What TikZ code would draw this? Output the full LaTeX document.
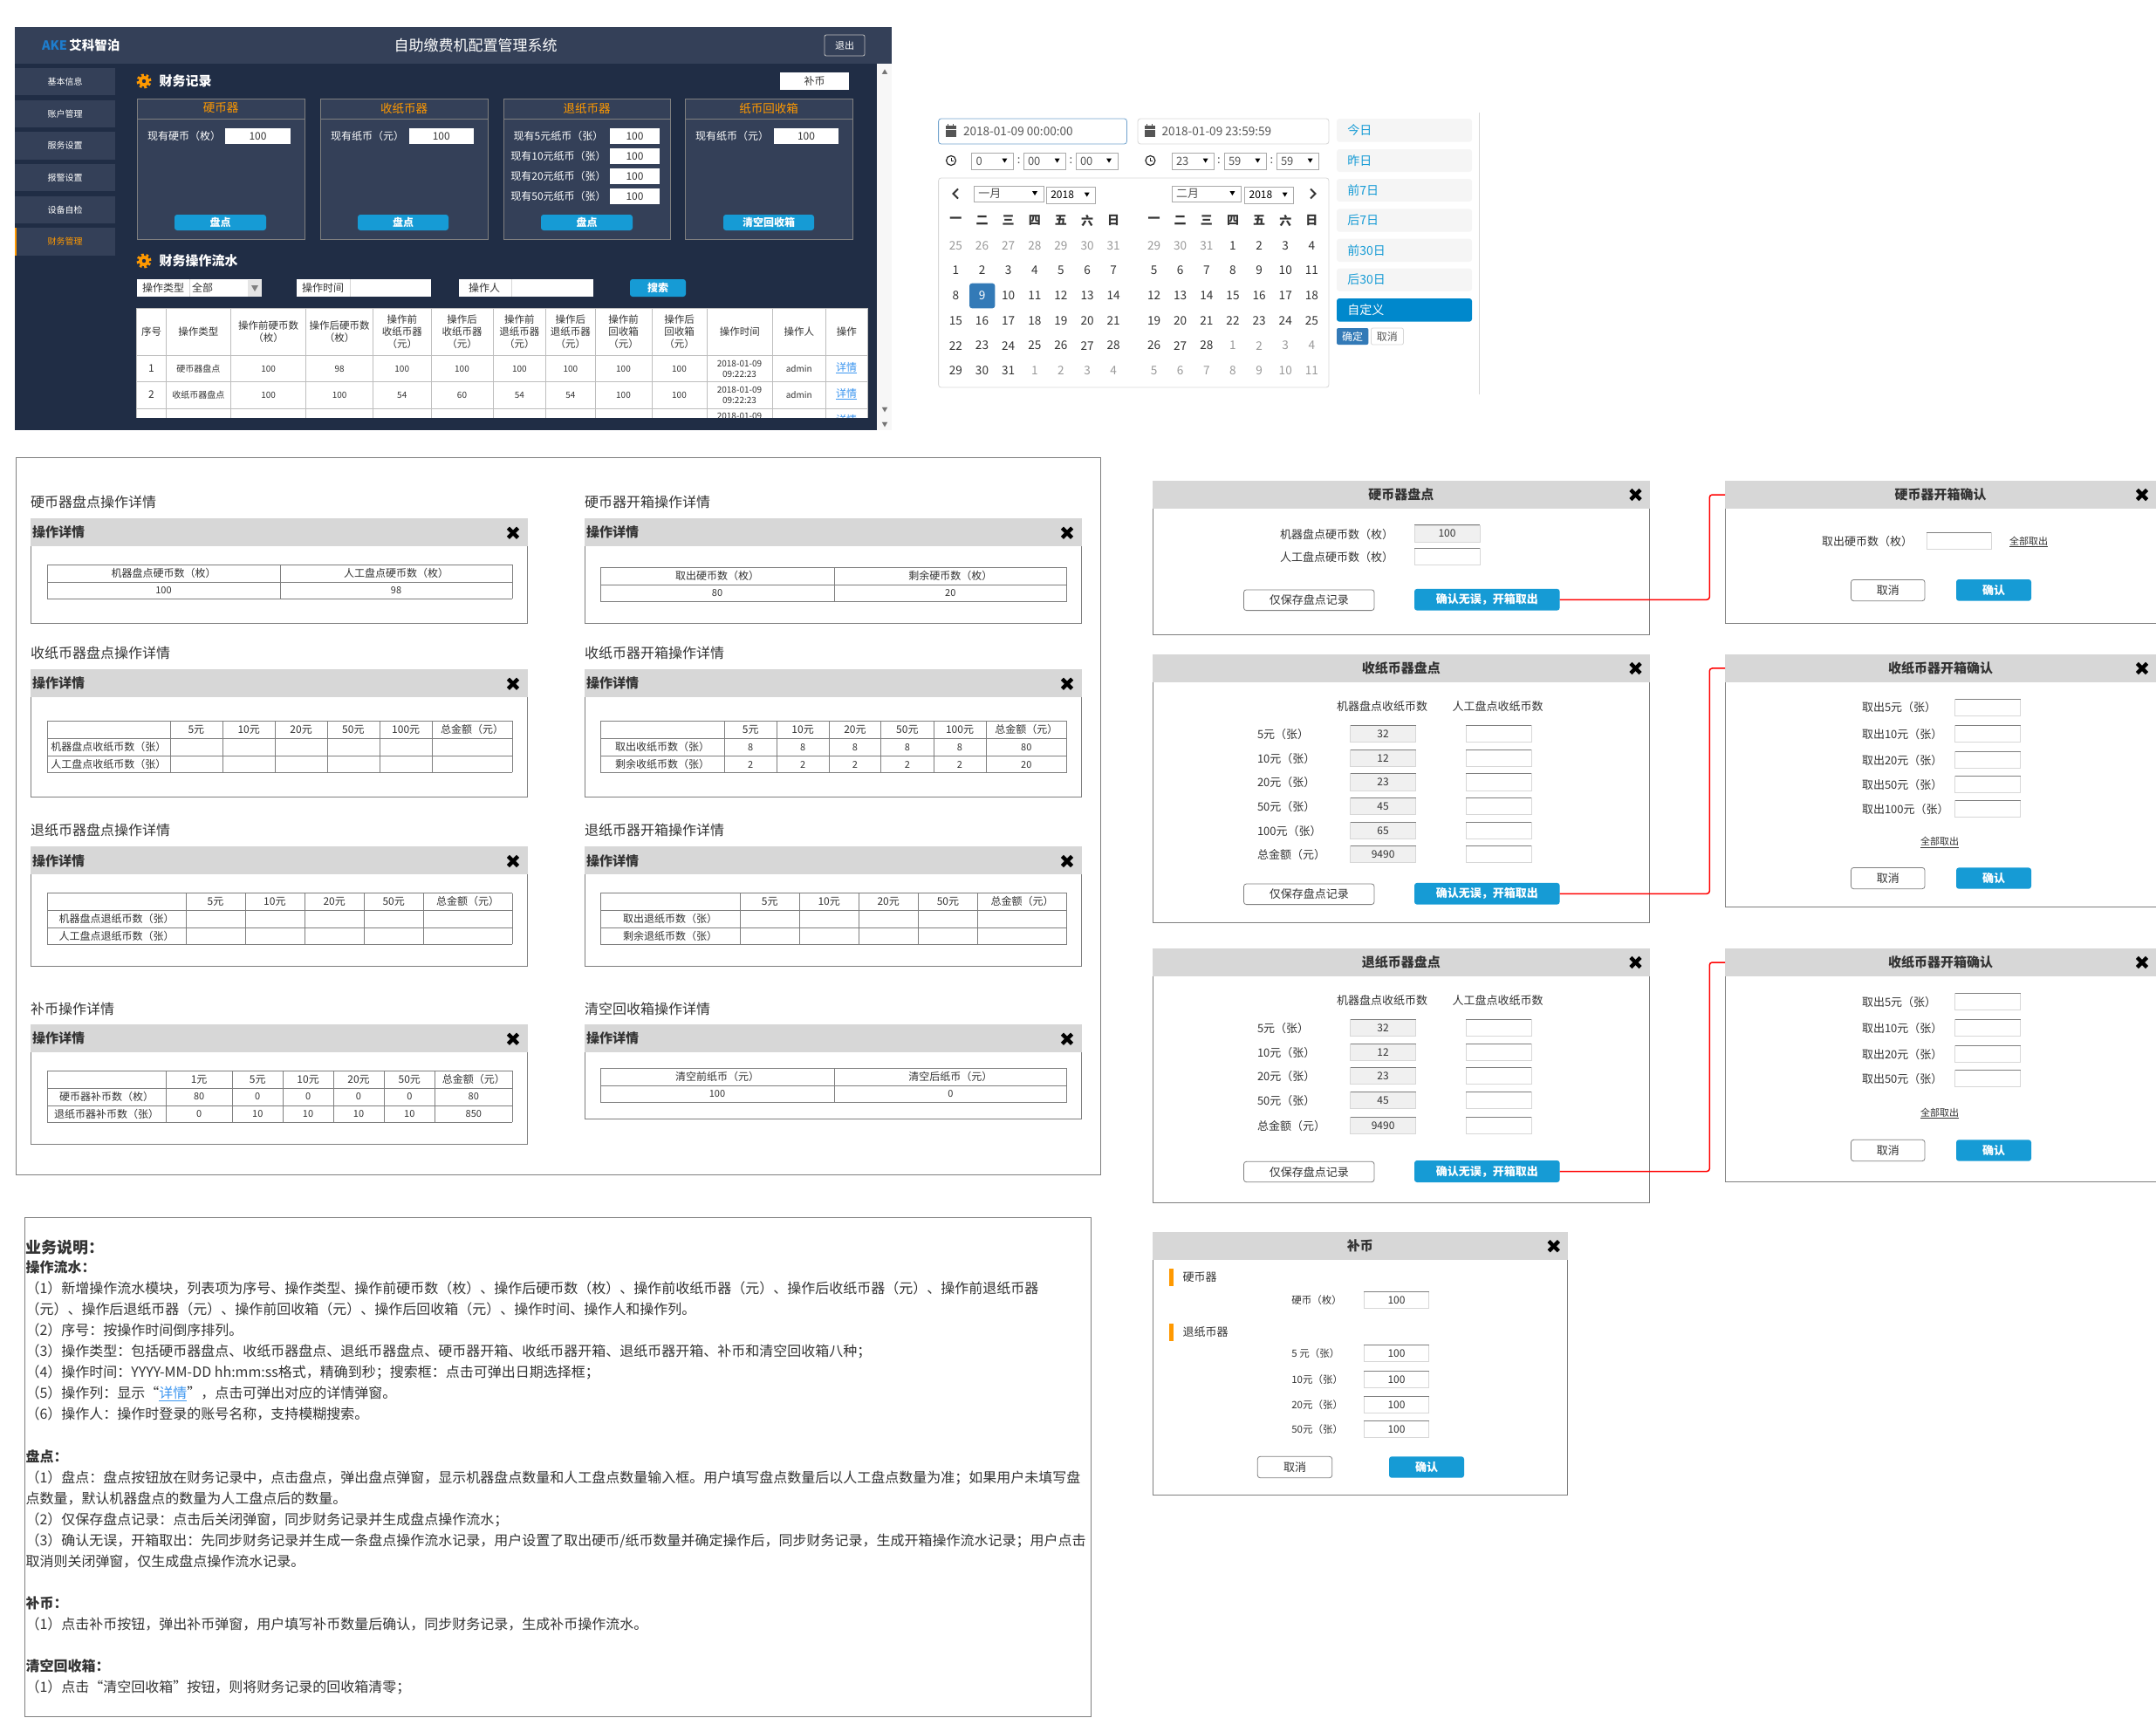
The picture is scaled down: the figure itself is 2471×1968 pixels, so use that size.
\documentclass[tikz,border=0pt]{standalone}
\usepackage{fontspec}
\setmainfont{Noto Sans CJK SC}
\usetikzlibrary{positioning, calc}

\newcounter{boxno}
\newcounter{lblno}

% box from corner to corner
\newcommand{\uibox}[6][]{%
  \stepcounter{boxno}%
  \pgfmathsetmacro\bxw{(#4)-(#2)}\pgfmathsetmacro\bxh{(#5)-(#3)}%
  \pgfmathsetmacro\bxc{((#2)+(#4))/2}\pgfmathsetmacro\byc{((#3)+(#5))/2}%
  \node (box\arabic{boxno}) [uibase, minimum width=\bxw pt, minimum height=\bxh pt, #1] at (\bxc,\byc) {#6};}
% plain text
\newcommand{\uilabel}[4][]{%
  \stepcounter{lblno}%
  \node (lbl\arabic{lblno}) [uitext, #1] at ({#2},{#3}) {#4};}
% one row of table cells
\newcommand{\uirow}[3][]{\foreach \xa/\xb/\s in {#3}{\uilabel[#1]{(\xa+\xb)/2}{#2}{\s}}}
% table rules
\newcommand{\uigrid}[6]{%
  \foreach \gy in {#3}{\draw[gridh] (#1,\gy) -- (#2,\gy);}%
  \foreach \gx in {#1,#4,#2}{\draw[gridv] (\gx,#5) -- (\gx,#6);}}
% input field, fixed height
\newcommand{\uiinput}[5][]{%
  \uibox[inputbox,#1]{#2}{#3}{#4}{#3+19.5}{#5}%
  \draw[inputtop] (#2,#3) -- (#4,#3);}
\newcommand{\closeicon}[2]{%
  \draw[closex] ({#1-5.6},{#2-5.6}) -- ({#1+5.6},{#2+5.6});
  \draw[closex] ({#1-5.6},{#2+5.6}) -- ({#1+5.6},{#2-5.6});}
\newcommand{\gearicon}[3]{%
  \fill[gearorange] (#1,#2) circle (6pt);
  \draw[gearorange, line width=3pt, dash pattern=on 2.8pt off 2.7pt] (#1,#2) circle (7pt);
  \fill[#3] (#1,#2) circle (2.2pt);}
\newcommand{\uidialog}[7]{%
  \uibox[dlgbody,name=#1_body]{#2}{#3}{#5}{#6}{}
  \uibox[dlghead,name=#1_head]{#2}{#3}{#5}{#4}{\bfseries #7}
  \closeicon{#5-16}{(#3+#4)/2}}
% detail panel: x, title y, head top, bottom, title
\newcommand{\uipanel}[5]{%
  \uilabel[anchor=west,fs=16]{#1}{#2}{#5}
  \uibox[dlgbody]{#1}{#3}{#1+569.6}{#4}{}
  \uibox[dlghead]{#1}{#3}{#1+569.6}{#3+32}{}
  \uilabel[anchor=west,fs=15]{#1+2}{#3+16}{\bfseries 操作详情}
  \closeicon{#1+553}{#3+16.7}}
\newcommand{\uiselect}[6][]{%
  \uibox[selectbox]{#2}{#3}{#4}{#5}{}
  \uilabel[anchor=west,fs=13,text=datetext,#1]{#2+5}{(#3+#5)/2}{#6}
  \fill[black] ({#4-13},{(#3+#5)/2-3}) -- ({#4-7},{(#3+#5)/2-3}) -- ({#4-10},{(#3+#5)/2+2}) -- cycle;}
\newcommand{\calicon}[2]{%
  \fill[datetext] ({#1-6},{#2-6}) rectangle ({#1+6},{#2+7});
  \draw[white, line width=.6pt] ({#1-6},{#2-2}) -- ({#1+6},{#2-2});
  \draw[datetext, line width=1.4pt] ({#1-3},{#2-8}) -- ({#1-3},{#2-5}) ({#1+3},{#2-8}) -- ({#1+3},{#2-5});}
\newcommand{\clockicon}[2]{%
  \draw[black!85, line width=1.2pt] (#1,#2) circle (5.5pt);
  \draw[black!85, line width=1pt] (#1,{#2-3.5}) -- (#1,{#2+.5}) -- ({#1+2.5},{#2+.5});}
\newcommand{\uicalendar}[5]{%
  \foreach \dd [count=\n from 0] in {#5}{%
    \pgfmathtruncatemacro\colno{mod(\n,7)}%
    \pgfmathtruncatemacro\rowno{floor((\n+.01)/7)}%
    \def\dcol{caldark}%
    \ifnum\n<#2 \def\dcol{calgray}\fi
    \ifnum\n>#3 \def\dcol{calgray}\fi
    \ifnum\n=#4 \def\dcol{white}\fi
    \uilabel[fs=13.6,text=\dcol]{#1+30.13*\colno}{281.3+28.7*\rowno}{\dd}}}
\newcommand{\descline}[3][]{%
  \stepcounter{lblno}%
  \node (lbl\arabic{lblno}) [uitext, anchor=base west, fs=16, #1] at (29.5,#2+5.8) {#3};}

\begin{document}
\begin{tikzpicture}[
    x=1pt, y=-1pt,
    uibase/.style={inner sep=0, outer sep=0, line width=.8pt, text=txtdark},
    uitext/.style={inner sep=0, outer sep=0, text=txtdark, align=center},
    fs/.style={font=\fontsize{#1}{#1}\selectfont},
    headfont/.style={font=\fontsize{11.5}{14}\selectfont},
    gridh/.style={draw=panelline, line width=.9pt},
    gridv/.style={draw=panelline, line width=.6pt},
    inputbox/.style={draw=inputline, fill=white, font=\fontsize{12}{12}\selectfont},
    inputtop/.style={draw=panelline, line width=1pt},
    selectbox/.style={draw=selectline, fill=white},
    closex/.style={draw=black, line width=4.4pt},
    dlgbody/.style={draw=panelline, fill=white},
    dlghead/.style={fill=headgray, font=\fontsize{15}{15}\selectfont},
    bluebtn/.style={fill=btnblue, rounded corners=3pt, text=white, font=\fontsize{13}{13}\bfseries\selectfont},
    linebtn/.style={draw=panelline, fill=white, rounded corners=3pt, font=\fontsize{13}{13}\selectfont},
    linkline/.style={draw=red, line width=1.5pt, rounded corners=3pt},
    rangebox/.style={fill=rangegray, rounded corners=3pt},
    gridlight/.style={draw=dashgrid, line width=.9pt}
]

% Colors
\definecolor{dashhead}{RGB}{52, 64, 88}
\definecolor{dashbody}{RGB}{32, 45, 69}
\definecolor{txtdark}{RGB}{51, 51, 51}
\definecolor{panelline}{RGB}{127, 127, 127}
\definecolor{inputline}{RGB}{215, 215, 215}
\definecolor{selectline}{RGB}{170, 170, 170}
\definecolor{headgray}{RGB}{215, 215, 215}
\definecolor{btnblue}{RGB}{22, 155, 213}
\definecolor{gearorange}{RGB}{255, 153, 0}
\definecolor{akeblue}{RGB}{30, 125, 205}
\definecolor{linkblue}{RGB}{60, 150, 240}
\definecolor{dashgrid}{RGB}{190, 190, 190}
\definecolor{datetext}{RGB}{85, 85, 85}
\definecolor{caldark}{RGB}{51, 51, 51}
\definecolor{calgray}{RGB}{153, 153, 153}
\definecolor{rangegray}{RGB}{245, 245, 245}
\definecolor{rangeblue}{RGB}{0, 136, 204}
\definecolor{calblue}{RGB}{51, 122, 183}

\useasboundingbox (0,0) rectangle (2471,1968);

% Dashboard frame
\uibox[fill=dashbody]{17}{31}{1022}{493}{}
\uibox[fill=dashhead]{17}{31}{1022}{73}{}
\uibox[fill=black!3]{1005}{73}{1022}{493}{}
\uilabel[anchor=west,fs=14.5,text=white]{48}{52}{\bfseries\textcolor{akeblue}{AKE}\,艾科智泊}
\uilabel[fs=17,text=white]{545}{52}{自助缴费机配置管理系统}
\uibox[draw=white!75!black,rounded corners=2pt,text=white,fs=11]{945}{40}{991}{64}{退出}
\foreach \ya in {83,470,487}{\uilabel[fs=7,text=black!55]{1014}{\ya}{\ifnum\ya=83 ▲\else ▼\fi}}

\foreach \ya/\yb/\s in {78/109/基本信息,115/146/账户管理,151/183/服务设置,188/219/报警设置,225/256/设备自检}{
  \uibox[fill=dashhead,text=white,fs=10]{17}{\ya}{132}{\yb}{\s}
}
\uibox[fill=dashhead,text=gearorange,fs=10]{17}{261}{132}{293}{财务管理}
\fill[gearorange] (17,261) rectangle (19,293);

% Records
\gearicon{165}{93}{dashbody}
\uilabel[anchor=west,fs=15,text=white]{182.5}{93}{\bfseries 财务记录}
\uibox[fill=white,fs=12]{894}{83}{973}{103}{补币}

\foreach \xa/\xb/\s in {157/349/硬币器,367/559/收纸币器,577/768/退纸币器,785/977/纸币回收箱}{
  \uibox[fill=dashhead,draw=panelline]{\xa}{113}{\xb}{274}{}
  \draw[panelline, line width=.8pt] (\xa,136) -- (\xb,136);
  \uilabel[fs=13.5,text=gearorange]{(\xa+\xb)/2}{124}{\s}
}
\uilabel[fs=12,text=white]{211}{156}{现有硬币（枚）}
\uibox[fill=white,fs=12]{258}{147}{333}{165}{100}
\uilabel[fs=12,text=white]{421}{156}{现有纸币（元）}
\uibox[fill=white,fs=12]{468.5}{147}{543}{165}{100}
\foreach \ty/\s in {147/现有5元纸币（张）,170/现有10元纸币（张）,193/现有20元纸币（张）,216/现有50元纸币（张）}{
  \uilabel[fs=12,text=white]{640}{\ty+9}{\s}
  \uibox[fill=white,fs=12]{699}{\ty}{756}{\ty+18}{100}
}
\uilabel[fs=12,text=white]{839}{156}{现有纸币（元）}
\uibox[fill=white,fs=12]{887}{147}{961}{165}{100}
\foreach \xa/\xb/\s in {200/305/盘点,410/514/盘点,620/725/盘点,829/933/清空回收箱}{
  \uibox[bluebtn,font=\fontsize{12}{12}\bfseries\selectfont]{\xa}{246}{\xb}{264}{\s}
}

% Operation log
\gearicon{165}{299}{dashbody}
\uilabel[anchor=west,fs=15,text=white]{182.5}{299}{\bfseries 财务操作流水}
\uibox[fill=white]{157}{320}{300}{340}{}
\uibox[fill=black!10]{284}{321}{300}{340}{}
\fill[black!50] (288,327) -- (296,327) -- (292,334) -- cycle;
\uilabel[fs=12]{187}{330}{操作类型}
\uilabel[anchor=west,fs=12]{220}{330}{全部}
\uibox[fill=white]{340}{320}{494}{340}{}
\uilabel[fs=12]{370}{330}{操作时间}
\uibox[fill=white]{525.5}{320}{679.5}{340}{}
\uilabel[fs=12]{555}{330}{操作人}
\foreach \xa in {217,401,586}{\draw[inputline, line width=1pt] (\xa,320) -- (\xa,340);}
\uibox[bluebtn,font=\fontsize{12}{12}\bfseries\selectfont]{722}{320}{786}{340}{搜索}

\begin{scope}
  \clip (156,352) rectangle (995,478);
  \uibox[fill=white]{156.5}{353}{994.5}{480}{}
  \foreach \gy in {353,407,437,468}{\draw[gridlight] (156.5,\gy) -- (994.5,\gy);}
  \foreach \gx in {156.5,190.5,264.4,350.8,427.5,494,565,625.8,682,747,810,885.5,946,994.5}{\draw[gridlight] (\gx,353) -- (\gx,480);}
  \uirow[headfont]{380}{156.5/190.5/序号,190.5/264.4/操作类型,264.4/350.8/{操作前硬币数\\（枚）},350.8/427.5/{操作后硬币数\\（枚）},427.5/494/{操作前\\收纸币器\\（元）},494/565/{操作后\\收纸币器\\（元）},565/625.8/{操作前\\退纸币器\\（元）},625.8/682/{操作后\\退纸币器\\（元）},682/747/{操作前\\回收箱\\（元）},747/810/{操作后\\回收箱\\（元）},810/885.5/操作时间,885.5/946/操作人,946/994.5/操作}
  \uilabel[fs=12]{173.5}{422.5}{1}
  \uilabel[fs=12]{173.5}{452.5}{2}
  \uirow[fs=10]{422.5}{190.5/264.4/硬币器盘点,264.4/350.8/100,350.8/427.5/98,427.5/494/100,494/565/100,565/625.8/100,625.8/682/100,682/747/100,747/810/100,885.5/946/admin}
  \uirow[fs=10]{452.5}{190.5/264.4/收纸币器盘点,264.4/350.8/100,350.8/427.5/100,427.5/494/54,494/565/60,565/625.8/54,625.8/682/54,682/747/100,747/810/100,885.5/946/admin}
  \foreach \ty in {422.5,452.5,482.5}{
    \uilabel[font=\fontsize{10}{12}\selectfont]{847.5}{\ty}{2018-01-09\\09:22:23}
    \uilabel[fs=12,text=linkblue]{970}{\ty-1}{\underline{详情}}
  }
\end{scope}

% Date picker
\uibox[draw=calblue!70!white,fill=white,rounded corners=3pt]{1075.6}{136}{1291.5}{165}{}
\uibox[draw=inputline,fill=white,rounded corners=3pt]{1304}{136}{1523}{165}{}
\calicon{1089.5}{150}
\calicon{1317.5}{150}
\uilabel[anchor=west,fs=13.6,text=datetext]{1104}{150.5}{2018-01-09 00:00:00}
\uilabel[anchor=west,fs=13.6,text=datetext]{1331.5}{150.5}{2018-01-09 23:59:59}
\clockicon{1090}{184}
\clockicon{1318.4}{184}
\uiselect{1113.5}{175}{1161.4}{194}{0}
\uiselect{1173}{175}{1221.6}{194}{00}
\uiselect{1233}{175}{1281}{194}{00}
\uiselect{1343}{175}{1391.6}{194}{23}
\uiselect{1403}{175}{1451.4}{194}{59}
\uiselect{1463}{175}{1511.6}{194}{59}
\foreach \xa in {1167.7,1227.5,1397,1457.3}{\uilabel[fs=13,text=datetext]{\xa}{184}{:}}

\uibox[draw=inputline,fill=white,rounded corners=3pt]{1075.6}{204}{1523}{444}{}
\draw[txtdark, line width=2pt] (1098,216.5) -- (1092.5,222) -- (1098,227.5);
\draw[txtdark, line width=2pt] (1502,216.5) -- (1507.5,222) -- (1502,227.5);
\uiselect{1116.4}{213}{1196}{231}{一月}
\uiselect[fs=12,text=black]{1199.3}{214}{1255.7}{233}{2018}
\uiselect{1343}{213}{1422.4}{231}{二月}
\uiselect[fs=12,text=black]{1426.6}{214}{1482.6}{233}{2018}
\foreach \xo in {1095.4,1322.6}{
  \foreach \s [count=\n from 0] in {一,二,三,四,五,六,日}{
    \uilabel[fs=14]{\xo+30.13*\n}{252.7}{\bfseries\s}
  }
}
\uibox[fill=calblue,rounded corners=3pt]{1111}{324.7}{1140.4}{353.3}{}
\uicalendar{1095.4}{7}{37}{15}{25,26,27,28,29,30,31,1,2,3,4,5,6,7,8,9,10,11,12,13,14,15,16,17,18,19,20,21,22,23,24,25,26,27,28,29,30,31,1,2,3,4}
\uicalendar{1322.6}{3}{30}{99}{29,30,31,1,2,3,4,5,6,7,8,9,10,11,12,13,14,15,16,17,18,19,20,21,22,23,24,25,26,27,28,1,2,3,4,5,6,7,8,9,10,11}

\foreach \ya/\yb/\s in {136/162.7/今日,171/197/昨日,205/231/前7日,239.3/265.7/后7日,273.7/300/前30日,307.7/333.7/后30日}{
  \uibox[rangebox]{1532}{\ya}{1687}{\yb}{}
  \uilabel[anchor=west,fs=14,text=btnblue]{1544.4}{(\ya+\yb)/2}{\s}
}
\uibox[rangebox,fill=rangeblue]{1532}{342}{1687}{368.7}{}
\uilabel[anchor=west,fs=14,text=white]{1544.4}{355.3}{自定义}
\uibox[fill=calblue,rounded corners=2pt,text=white,fs=12]{1532}{376}{1568.4}{395}{确定}
\uibox[draw=inputline,fill=white,rounded corners=2pt,fs=12,text=datetext]{1571.4}{376}{1608.4}{395}{取消}
\draw[inputline, line width=.8pt] (1695.5,129) -- (1695.5,452);

% Operation details
\uibox[draw=panelline]{18}{524.7}{1261}{1346}{}
\uipanel{35}{575}{594}{714.3}{硬币器盘点操作详情}
\uigrid{54}{587}{647.3,667.3,686.3}{321}{647.3}{686.3}
\uirow[fs=12]{657}{54/321/机器盘点硬币数（枚）,321/587/人工盘点硬币数（枚）}
\uirow[fs=11]{677}{54/321/100,321/587/98}

\uipanel{670}{575}{594}{714.3}{硬币器开箱操作详情}
\uigrid{688}{1222.6}{650.3,670.3,689.3}{956}{650.3}{689.3}
\uirow[fs=12]{660}{688/956/取出硬币数（枚）,956/1222.6/剩余硬币数（枚）}
\uirow[fs=11]{680}{688/956/80,956/1222.6/20}

\uipanel{35}{748}{767}{913.3}{收纸币器盘点操作详情}
\uigrid{54}{587}{826.3,846.3,866.3,885.3}{194.8,255,315.4,374.8,435,495.4}{826.3}{885.3}
\uirow[fs=12]{836}{194.8/255/5元,255/315.4/10元,315.4/374.8/20元,374.8/435/50元,435/495.4/100元,495.4/587/总金额（元）}
\uilabel[fs=12]{124.4}{856.3}{机器盘点收纸币数（张）}
\uilabel[fs=12]{124.4}{876.3}{人工盘点收纸币数（张）}

\uipanel{670}{748}{767}{913.3}{收纸币器开箱操作详情}
\uigrid{688}{1222.6}{826.3,846.3,866.3,885.3}{830.5,890,950.2,1009.7,1070,1130}{826.3}{885.3}
\uirow[fs=12]{836}{830.5/890/5元,890/950.2/10元,950.2/1009.7/20元,1009.7/1070/50元,1070/1130/100元,1130/1222.6/总金额（元）}
\uilabel[fs=12]{759}{856.3}{取出收纸币数（张）}
\uilabel[fs=12]{759}{876.3}{剩余收纸币数（张）}
\uirow[fs=11]{856.3}{830.5/890/8,890/950.2/8,950.2/1009.7/8,1009.7/1070/8,1070/1130/8,1130/1222.6/80}
\uirow[fs=11]{876.3}{830.5/890/2,890/950.2/2,950.2/1009.7/2,1009.7/1070/2,1070/1130/2,1130/1222.6/20}

\uipanel{35}{951.7}{970.3}{1107.3}{退纸币器盘点操作详情}
\uigrid{54}{587}{1023.7,1043.3,1063.3,1082.3}{213.3,280.8,349,417.4,485}{1023.7}{1082.3}
\uirow[fs=12]{1033.3}{213.3/280.8/5元,280.8/349/10元,349/417.4/20元,417.4/485/50元,485/587/总金额（元）}
\uilabel[fs=12]{133.6}{1053.3}{机器盘点退纸币数（张）}
\uilabel[fs=12]{133.6}{1073.3}{人工盘点退纸币数（张）}

\uipanel{670}{951.7}{970.3}{1107.3}{退纸币器开箱操作详情}
\uigrid{688}{1222.6}{1023.7,1043.3,1063.3,1082.3}{848,916.4,984,1052.3,1120.5}{1023.7}{1082.3}
\uirow[fs=12]{1033.3}{848/916.4/5元,916.4/984/10元,984/1052.3/20元,1052.3/1120.5/50元,1120.5/1222.6/总金额（元）}
\uilabel[fs=12]{768}{1053.3}{取出退纸币数（张）}
\uilabel[fs=12]{768}{1073.3}{剩余退纸币数（张）}

\uipanel{35}{1156}{1174}{1311.3}{补币操作详情}
\uigrid{54}{587}{1227.3,1247.3,1267.3,1286.3}{190,266.3,324.2,382,440,498.6}{1227.3}{1286.3}
\uirow[fs=12]{1237}{190/266.3/1元,266.3/324.2/5元,324.2/382/10元,382/440/20元,440/498.6/50元,498.6/587/总金额（元）}
\uilabel[fs=12]{122}{1257}{硬币器补币数（枚）}
\uilabel[fs=12]{122}{1277}{退纸币器补币数（张）}
\uirow[fs=11]{1257}{190/266.3/80,266.3/324.2/0,324.2/382/0,382/440/0,440/498.6/0,498.6/587/80}
\uirow[fs=11]{1277}{190/266.3/0,266.3/324.2/10,324.2/382/10,382/440/10,440/498.6/10,498.6/587/850}

\uipanel{670}{1156}{1174}{1282.3}{清空回收箱操作详情}
\uigrid{688}{1222.6}{1224.3,1244.3,1263.3}{956}{1224.3}{1263.3}
\uirow[fs=12]{1234}{688/956/清空前纸币（元）,956/1222.6/清空后纸币（元）}
\uirow[fs=11]{1254}{688/956/100,956/1222.6/0}

% Coin count dialogs
\uidialog{coincount}{1321}{551.2}{582.9}{1890.5}{727.3}{硬币器盘点}
\uilabel[fs=13]{1532}{612.3}{机器盘点硬币数（枚）}
\uilabel[fs=13]{1532}{638.4}{人工盘点硬币数（枚）}
\uiinput[fill=black!6]{1621}{601.9}{1696}{100}
\uiinput{1621}{628.2}{1696}{}
\uibox[linebtn]{1425.5}{675.9}{1575}{699.6}{仅保存盘点记录}
\uibox[bluebtn,name=coin_ok]{1621}{674.9}{1787.6}{699.6}{确认无误，开箱取出}

\uidialog{coinopen}{1977}{551.2}{582.9}{2471}{714.4}{硬币器开箱确认}
\uilabel[fs=13]{2140}{620.1}{取出硬币数（枚）}
\uiinput{2208}{610.3}{2282}{}
\uilabel[fs=11]{2325}{621.1}{\underline{全部取出}}
\uibox[linebtn]{2121.5}{664.4}{2206}{688.7}{取消}
\uibox[bluebtn]{2242}{664}{2328}{688.7}{确认}

% Note count dialogs
\uidialog{notecount}{1321}{749.9}{782}{1890.5}{1057.6}{收纸币器盘点}
\uilabel[fs=13]{1584}{809.8}{机器盘点收纸币数}
\uilabel[fs=13]{1716.5}{809.8}{人工盘点收纸币数}
\foreach \ty/\s/\val in {831.1/5元（张）/32,859.1/10元（张）/12,886.5/20元（张）/23,914.2/50元（张）/45,942.3/100元（张）/65,969.3/总金额（元）/9490}{
  \uilabel[anchor=west,fs=13]{1441}{\ty+10}{\s}
  \uiinput[fill=black!6]{1547.7}{\ty}{1622.5}{\val}
  \uiinput{1680}{\ty}{1755}{}
}
\uibox[linebtn]{1425.5}{1013}{1575}{1036.6}{仅保存盘点记录}
\uibox[bluebtn,name=note_ok]{1621}{1011.9}{1787.6}{1036.6}{确认无误，开箱取出}

\uidialog{noteopen}{1977}{749.9}{782}{2471}{1039.3}{收纸币器开箱确认}
\foreach \ty/\s in {801/取出5元（张）,831.1/取出10元（张）,861.2/取出20元（张）,889.2/取出50元（张）,917.3/取出100元（张）}{
  \uilabel[anchor=west,fs=13]{2134}{\ty+10}{\s}
  \uiinput{2240.7}{\ty}{2315.5}{}
}
\uilabel[fs=11]{2223}{965.3}{\underline{全部取出}}
\uibox[linebtn]{2121.5}{994.4}{2206}{1018.7}{取消}
\uibox[bluebtn]{2242}{994.4}{2328}{1018.7}{确认}

% Return count dialogs
\uidialog{backcount}{1321}{1087}{1119}{1890.5}{1378.3}{退纸币器盘点}
\uilabel[fs=13]{1584}{1146.7}{机器盘点收纸币数}
\uilabel[fs=13]{1716.5}{1146.7}{人工盘点收纸币数}
\foreach \ty/\s/\val in {1168.3/5元（张）/32,1196.3/10元（张）/12,1223.3/20元（张）/23,1251.3/50元（张）/45,1280.3/总金额（元）/9490}{
  \uilabel[anchor=west,fs=13]{1441}{\ty+10}{\s}
  \uiinput[fill=black!6]{1547.7}{\ty}{1622.5}{\val}
  \uiinput{1680}{\ty}{1755}{}
}
\uibox[linebtn]{1425.5}{1331.3}{1575}{1354.7}{仅保存盘点记录}
\uibox[bluebtn,name=back_ok]{1621}{1330}{1787.6}{1355}{确认无误，开箱取出}

\uidialog{backopen}{1977}{1087}{1119}{2471}{1354.3}{收纸币器开箱确认}
\foreach \ty/\s in {1138.3/取出5元（张）,1168.3/取出10元（张）,1198.3/取出20元（张）,1226.3/取出50元（张）}{
  \uilabel[anchor=west,fs=13]{2134}{\ty+10}{\s}
  \uiinput{2240.7}{\ty}{2315.5}{}
}
\uilabel[fs=11]{2223}{1276}{\underline{全部取出}}
\uibox[linebtn]{2121.5}{1306.3}{2206}{1330.7}{取消}
\uibox[bluebtn]{2242}{1306.3}{2328}{1330.7}{确认}

% Refill dialog
\uidialog{refill}{1321}{1412.3}{1444}{1796.7}{1713.3}{补币}
\fill[gearorange] (1340,1454) rectangle (1345,1474);
\fill[gearorange] (1340,1517) rectangle (1345,1537);
\uilabel[anchor=west,fs=13]{1355.7}{1464}{硬币器}
\uilabel[anchor=west,fs=13]{1355.7}{1527}{退纸币器}
\foreach \ty/\s in {1480.3/硬币（枚）,1541.3/5 元（张）,1571.3/10元（张）,1600.3/20元（张）,1628.3/50元（张）}{
  \uilabel[anchor=west,fs=11.5]{1480.3}{\ty+9.5}{\s}
  \uiinput{1563.3}{\ty}{1637.7}{100}
}
\uibox[linebtn]{1441.3}{1669.3}{1526.7}{1693.7}{取消}
\uibox[bluebtn]{1592}{1669.3}{1678}{1693.7}{确认}

% Business notes
\uibox[draw=panelline]{28}{1395.3}{1250}{1967.3}{}
\descline[fs=18]{1430.7}{\bfseries 业务说明：}
\descline{1452.7}{\bfseries 操作流水：}
\descline{1476.7}{（1）新增操作流水模块，列表项为序号、操作类型、操作前硬币数（枚）、操作后硬币数（枚）、操作前收纸币器（元）、操作后收纸币器（元）、操作前退纸币器}
\descline{1500.7}{（元）、操作后退纸币器（元）、操作前回收箱（元）、操作后回收箱（元）、操作时间、操作人和操作列。}
\descline{1525}{（2）序号：按操作时间倒序排列。}
\descline{1549}{（3）操作类型：包括硬币器盘点、收纸币器盘点、退纸币器盘点、硬币器开箱、收纸币器开箱、退纸币器开箱、补币和清空回收箱八种；}
\descline{1573}{（4）操作时间：YYYY-MM-DD hh:mm:ss格式，精确到秒；搜索框：点击可弹出日期选择框；}
\descline{1597}{（5）操作列：显示“\textcolor{linkblue}{\underline{详情}}”，点击可弹出对应的详情弹窗。}
\descline{1620.7}{（6）操作人：操作时登录的账号名称，支持模糊搜索。}
\descline{1670}{\bfseries 盘点：}
\descline{1694}{（1）盘点：盘点按钮放在财务记录中，点击盘点，弹出盘点弹窗，显示机器盘点数量和人工盘点数量输入框。用户填写盘点数量后以人工盘点数量为准；如果用户未填写盘}
\descline{1718}{点数量，默认机器盘点的数量为人工盘点后的数量。}
\descline{1741.7}{（2）仅保存盘点记录：点击后关闭弹窗，同步财务记录并生成盘点操作流水；}
\descline{1766}{（3）确认无误，开箱取出：先同步财务记录并生成一条盘点操作流水记录，用户设置了取出硬币/纸币数量并确定操作后，同步财务记录，生成开箱操作流水记录；用户点击}
\descline{1790}{取消则关闭弹窗，仅生成盘点操作流水记录。}
\descline{1837.7}{\bfseries 补币：}
\descline{1861.7}{（1）点击补币按钮，弹出补币弹窗，用户填写补币数量后确认，同步财务记录，生成补币操作流水。}
\descline{1909.3}{\bfseries 清空回收箱：}
\descline{1934}{（1）点击“清空回收箱”按钮，则将财务记录的回收箱清零；}

% Edges
\draw[linkline] (coin_ok.east) -- ++(171.7,0) |- (coinopen_head.west);
\draw[linkline] (note_ok.east) -- ++(171.7,0) |- (noteopen_head.west);
\draw[linkline] (back_ok.east) -- ++(171.7,0) |- (backopen_head.west);

\end{tikzpicture}
\end{document}
